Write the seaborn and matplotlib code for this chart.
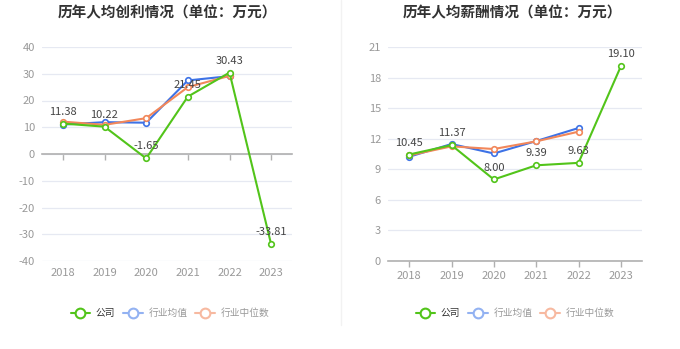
import matplotlib
matplotlib.use("Agg")
import matplotlib.pyplot as plt
from matplotlib.lines import Line2D
import seaborn as sns
import numpy as np

sns.set_theme(style="white")
plt.rcParams['font.family'] = ['Noto Sans CJK SC', 'DejaVu Sans']
plt.rcParams['axes.unicode_minus'] = False

years = ["2018", "2019", "2020", "2021", "2022", "2023"]

# 历年人均创利 (万元)
profit_company = [11.38, 10.22, -1.65, 21.45, 30.43, -33.81]
profit_avg = [11.0, 11.9, 11.7, 27.5, 29.1, np.nan]
profit_median = [12.1, 10.9, 13.4, 25.0, 29.2, np.nan]

# 历年人均薪酬 (万元)
salary_company = [10.45, 11.37, 8.00, 9.39, 9.63, 19.10]
salary_avg = [10.23, 11.48, 10.55, 11.77, 13.05, np.nan]
salary_median = [10.36, 11.25, 10.99, 11.74, 12.69, np.nan]

titles = ["历年人均创利情况（单位：万元）", "历年人均薪酬情况（单位：万元）"]
legend_labels = ["公司", "行业均值", "行业中位数"]

GREEN = "#52c41a"
BLUE = "#3d72e6"
ORANGE = "#f2875a"
GRID = "#e6e9f2"
TICK = "#999999"

fig = plt.figure(figsize=(6.8, 3.49), dpi=100)
axL = fig.add_axes([42/680, 1-261/349, 250/680, 214/349])
axR = fig.add_axes([388/680, 1-261/349, 254/680, 214/349])

def draw(ax, comp, avg, med, ylim, step, zero_mid):
    for vals, col in [(avg, BLUE), (med, ORANGE), (comp, GREEN)]:
        sns.lineplot(x=years, y=vals, ax=ax, color=col, linewidth=1.5,
                     marker="o", markersize=4, markerfacecolor="white",
                     markeredgecolor=col, markeredgewidth=1.2, sort=False,
                     zorder=3)
    for x, v in zip(years, comp):
        ax.annotate(f"{v:.2f}", (x, v), xytext=(0, 5), textcoords="offset points",
                    ha="center", va="bottom", fontsize=8, color="#444444", zorder=5)
    ax.set_xlim(-0.5, len(years) - 0.5)
    ax.set_ylim(*ylim)
    ax.set_yticks(np.arange(ylim[0], ylim[1] + 0.01, step))
    ax.yaxis.grid(True, color=GRID, linewidth=0.9)
    ax.xaxis.grid(False)
    ax.set_axisbelow(True)
    for s in ["top", "right", "left"]:
        ax.spines[s].set_visible(False)
    ax.spines["bottom"].set_color("#b0b0b0")
    ax.spines["bottom"].set_linewidth(1.2)
    ax.tick_params(axis="y", length=0, pad=5, labelsize=8, labelcolor=TICK)
    ax.set_xlabel("")
    ax.set_ylabel("")
    if zero_mid:
        ax.spines["bottom"].set_position(("data", 0))
        ax.tick_params(axis="x", bottom=True, direction="out", length=4, width=1,
                       color="#b0b0b0", labelsize=8, labelcolor=TICK, pad=78)
    else:
        ax.tick_params(axis="x", bottom=True, direction="out", length=4, width=1,
                       color="#b0b0b0", labelsize=8, labelcolor=TICK, pad=3)

draw(axL, profit_company, profit_avg, profit_median, (-40, 40), 10, True)
draw(axR, salary_company, salary_avg, salary_median, (0, 21), 3, False)

for cx, t in zip([167/680, 512/680], titles):
    fig.text(cx, 1 - 12/349, t, ha="center", va="center", fontsize=10.5,
             fontweight="bold", color="#333333")

# divider
fig.add_artist(Line2D([341/680, 341/680], [1 - 325/349, 1], color="#f2f2f2",
                      linewidth=1, transform=fig.transFigure))

for ax, cx in [(axL, 170/680), (axR, 515/680)]:
    handles = [
        Line2D([], [], color=GREEN, marker="o", markersize=7, markerfacecolor="white",
               markeredgecolor=GREEN, markeredgewidth=1.5, linewidth=1.5),
        Line2D([], [], color="#93b2f2", marker="o", markersize=7, markerfacecolor="white",
               markeredgecolor="#93b2f2", markeredgewidth=1.5, linewidth=1.5),
        Line2D([], [], color="#f7b9a0", marker="o", markersize=7, markerfacecolor="white",
               markeredgecolor="#f7b9a0", markeredgewidth=1.5, linewidth=1.5),
    ]
    leg = ax.legend(handles, legend_labels, loc="center",
                    bbox_to_anchor=(cx, 1 - 313/349), bbox_transform=fig.transFigure,
                    ncol=3, frameon=False, fontsize=7, handlelength=2.0,
                    handletextpad=0.6, columnspacing=0.8)
    for txt, c in zip(leg.get_texts(), ["#333333", "#999999", "#999999"]):
        txt.set_color(c)

fig.savefig("out.png", dpi=100, facecolor="white")
